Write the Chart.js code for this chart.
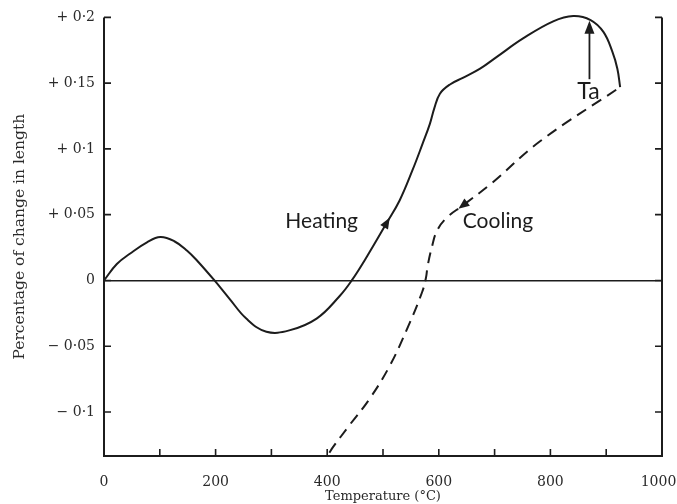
<!DOCTYPE html>
<html>
<head>
<meta charset="utf-8">
<script src="https://cdn.jsdelivr.net/npm/chart.js@4.4.1/dist/chart.umd.min.js"></script>
<style>
  body { margin: 0; background: #fff; }
  #wrap { width: 677px; height: 504px; }
</style>
</head>
<body>
<div id="wrap"><canvas id="dilatometer"></canvas></div>
<script>
// heating curve (temperature in degC, % change in length)
const heatTemps = [0, 23, 47, 77, 101, 126, 149, 167, 198, 225, 255, 291, 332, 381, 422, 444, 471, 507, 530, 553, 571, 584, 592, 602, 620, 643, 674, 704, 751, 805, 841, 872, 895, 911, 920, 925];
const heatValues = [0, 0.0125, 0.0205, 0.029, 0.033, 0.0298, 0.0226, 0.015, 0, -0.014, -0.029, -0.039, -0.038, -0.029, -0.012, 0, 0.018, 0.044, 0.061, 0.084, 0.104, 0.119, 0.131, 0.142, 0.149, 0.154, 0.161, 0.170, 0.184, 0.197, 0.201, 0.198, 0.189, 0.174, 0.161, 0.147];

// cooling curve (dashed)
const coolTemps = [404, 410, 440, 476, 512, 543, 570, 577, 580, 588, 597, 615, 643, 695, 782, 925];
const coolValues = [-0.131, -0.127, -0.110, -0.090, -0.065, -0.037, -0.009, 0.002, 0.011, 0.026, 0.038, 0.048, 0.057, 0.074, 0.106, 0.147];

const xTickValues = [0, 100, 200, 300, 400, 500, 600, 700, 800, 900, 1000];
const xTickLabels = ['0', '', '200', '', '400', '', '600', '', '800', '', '1000\u2002'];
const yTickValues = [-0.1, -0.05, 0, 0.05, 0.1, 0.15, 0.2];
const yTickLabels = ['− 0·1', '− 0·05', '0', '+ 0·05', '+ 0·1', '+ 0·15', '+ 0·2'];

// text labels and arrows on the plot, in data units
const notes = [
  { text: 'Heating', x: 325, y: 0.040, size: 21 },
  { text: 'Cooling', x: 643, y: 0.040, size: 21 },
  { text: 'Ta', x: 848, y: 0.138, size: 23 }
];
const heatArrow = { from: [471, 0.018], at: [507, 0.044] };
const coolArrow = { from: [695, 0.074], at: [643, 0.057] };
const taArrow = { from: [870, 0.153], to: [870, 0.197] };

const ink = '#1c1c1c';
const serif = 'DejaVu Serif';

const toPoints = (xs, ys) => xs.map((t, i) => ({ x: t, y: ys[i] }));

function arrowHead(ctx, x0, y0, x1, y1, len, half) {
  const a = Math.atan2(y1 - y0, x1 - x0);
  ctx.beginPath();
  ctx.moveTo(x1 + Math.cos(a) * len * 0.5, y1 + Math.sin(a) * len * 0.5);
  ctx.lineTo(x1 - Math.cos(a) * len * 0.5 - Math.sin(a) * half, y1 - Math.sin(a) * len * 0.5 + Math.cos(a) * half);
  ctx.lineTo(x1 - Math.cos(a) * len * 0.5 + Math.sin(a) * half, y1 - Math.sin(a) * len * 0.5 - Math.cos(a) * half);
  ctx.closePath();
  ctx.fill();
}

const framePlugin = {
  id: 'frame',
  afterDraw(chart) {
    const { ctx, chartArea: a, scales: { x, y } } = chart;
    ctx.save();
    ctx.strokeStyle = ink;
    ctx.fillStyle = ink;
    ctx.lineWidth = 2;
    ctx.beginPath();
    ctx.moveTo(a.left, a.top);
    ctx.lineTo(a.left, a.bottom);
    ctx.lineTo(a.right, a.bottom);
    ctx.lineTo(a.right, a.top);
    ctx.stroke();

    // inward ticks
    ctx.lineWidth = 1.6;
    ctx.beginPath();
    yTickValues.forEach(v => {
      const py = y.getPixelForValue(v);
      ctx.moveTo(a.left, py); ctx.lineTo(a.left + 7, py);
      ctx.moveTo(a.right, py); ctx.lineTo(a.right - 7, py);
    });
    xTickValues.forEach(v => {
      if (v === 0 || v === 1000) return;
      const px = x.getPixelForValue(v);
      ctx.moveTo(px, a.bottom); ctx.lineTo(px, a.bottom - 7);
    });
    ctx.stroke();

    // arrows on the curves
    const p = pt => [x.getPixelForValue(pt[0]), y.getPixelForValue(pt[1])];
    let f = p(heatArrow.from), t = p(heatArrow.at);
    arrowHead(ctx, f[0], f[1], t[0], t[1], 11, 4.5);
    f = p(coolArrow.from); t = p(coolArrow.at);
    arrowHead(ctx, f[0], f[1], t[0], t[1], 11, 4.5);

    f = p(taArrow.from); t = p(taArrow.to);
    ctx.lineWidth = 1.8;
    ctx.beginPath();
    ctx.moveTo(f[0], f[1]);
    ctx.lineTo(t[0], t[1] + 8);
    ctx.stroke();
    arrowHead(ctx, f[0], f[1], t[0], t[1] + 6, 13, 5);

    notes.forEach(n => {
      ctx.font = n.size + 'px Lato';
      ctx.textBaseline = 'alphabetic';
      ctx.textAlign = 'left';
      ctx.fillText(n.text, x.getPixelForValue(n.x), y.getPixelForValue(n.y));
    });
    ctx.restore();
  }
};

new Chart(document.getElementById('dilatometer'), {
  type: 'line',
  data: {
    datasets: [
      {
        label: 'Heating',
        data: toPoints(heatTemps, heatValues),
        borderColor: ink,
        borderWidth: 2,
        pointRadius: 0,
        tension: 0.4,
        clip: false
      },
      {
        label: 'Cooling',
        data: toPoints(coolTemps, coolValues),
        borderColor: ink,
        borderWidth: 2,
        borderDash: [11, 7],
        pointRadius: 0,
        tension: 0.4,
        clip: false
      }
    ]
  },
  options: {
    responsive: true,
    maintainAspectRatio: false,
    animation: false,
    layout: { padding: { top: 16, right: 15, left: 0, bottom: 0 } },
    plugins: { legend: { display: false }, tooltip: { enabled: false } },
    scales: {
      x: {
        type: 'linear',
        min: 0,
        max: 1000,
        afterBuildTicks: s => { s.ticks = xTickValues.map(v => ({ value: v })); },
        afterFit: s => { s.height = 48; s.paddingLeft = 0; s.paddingRight = 0; },
        ticks: {
          autoSkip: false,
          maxRotation: 0,
          padding: 10,
          color: '#2a2a2a',
          font: { family: serif, size: 14 },
          callback: (v, i) => xTickLabels[i]
        },
        grid: { display: false },
        border: { display: false },
        title: {
          display: true,
          text: 'Temperature (°C)',
          color: '#2a2a2a',
          font: { family: serif, size: 13 },
          padding: { top: 0, bottom: 0 }
        }
      },
      y: {
        type: 'linear',
        min: -0.1335,
        max: 0.2,
        afterBuildTicks: s => { s.ticks = yTickValues.map(v => ({ value: v })); },
        afterFit: s => { s.width = 104; },
        ticks: {
          autoSkip: false,
          padding: 9,
          color: '#2a2a2a',
          font: { family: serif, size: 14 },
          callback: (v, i) => yTickLabels[i]
        },
        grid: {
          drawTicks: false,
          lineWidth: 1.6,
          color: c => (c.tick && c.tick.value === 0 ? ink : 'transparent')
        },
        border: { display: false },
        title: {
          display: true,
          text: 'Percentage of change in length',
          color: '#2a2a2a',
          font: { family: serif, size: 15.5 },
          padding: { top: 11, bottom: 0 }
        }
      }
    }
  },
  plugins: [framePlugin]
});
</script>
</body>
</html>
